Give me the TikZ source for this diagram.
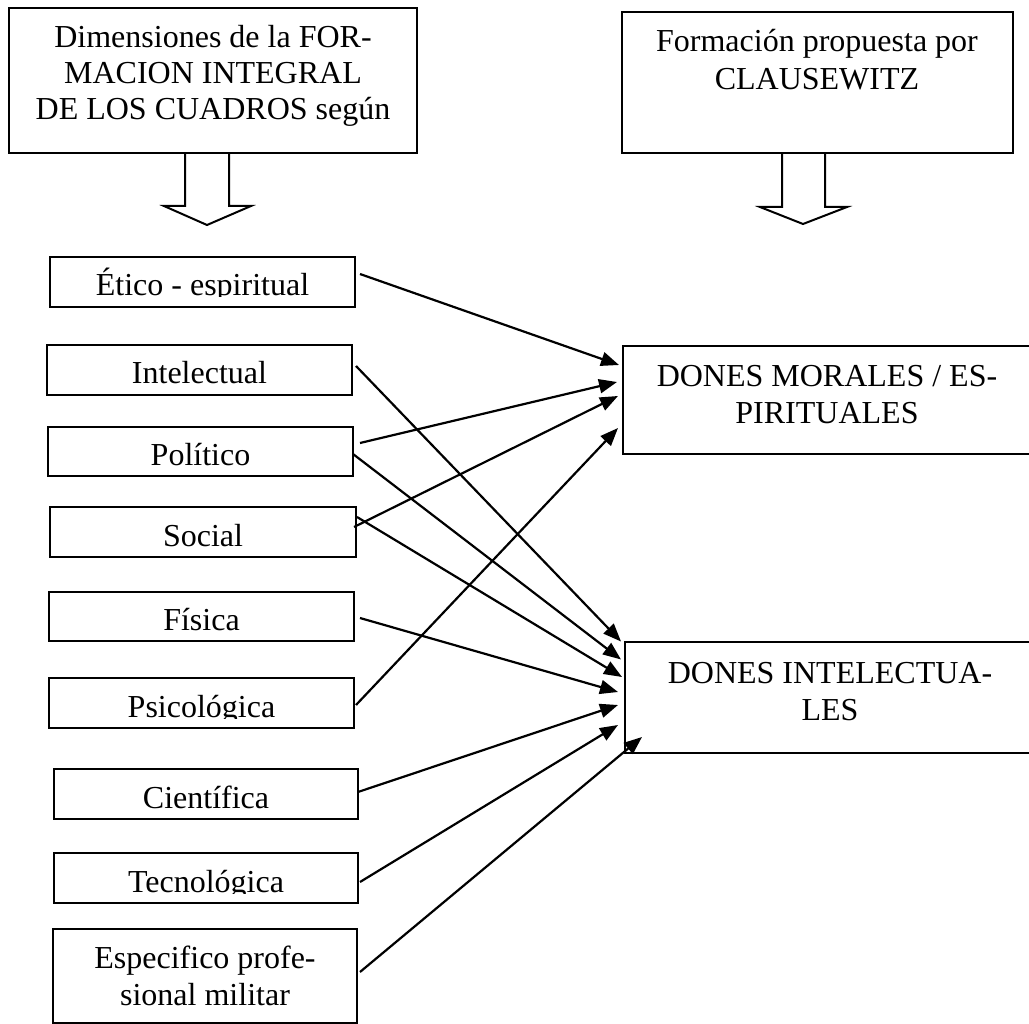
\documentclass[tikz,border=0pt]{standalone}
\usepackage{fontspec}
\setmainfont{Liberation Serif}
\usetikzlibrary{arrows.meta,calc}
\begin{document}
\begin{tikzpicture}[x=1pt,y=-1pt,
  box/.style={draw, line width=2pt, inner sep=0pt},
  lbl/.style={anchor=base, inner sep=0pt, font=\fontsize{32}{37}\selectfont},
  conn/.style={line width=2.2pt, -{Triangle[length=18pt,width=14pt]}},
  blockarrow/.style={draw, line width=2pt, line join=miter}]
\useasboundingbox (0,0) rectangle (1029,1024);
\clip (0,0) rectangle (1029,1024);

% ---- header boxes
\node[box, minimum width=408pt, minimum height=145pt] (dim) at (213,80.5) {};
\node[lbl, font=\fontsize{32}{36}\selectfont] (dimtxt) at (213,48)
  {\begin{tabular}[t]{@{}c@{}}Dimensiones de la FOR-\\MACION INTEGRAL\\DE LOS CUADROS según\end{tabular}};
\node[box, minimum width=391pt, minimum height=141pt] (form) at (817.5,82.5) {};
\node[lbl, font=\fontsize{32}{38}\selectfont] (formtxt) at (817,52)
  {\begin{tabular}[t]{@{}c@{}}Formación propuesta por\\CLAUSEWITZ\end{tabular}};

% ---- block arrows
\draw[blockarrow] ($(dim.south)+(-28,0)$) -- ++(0,52) -- ++(-21,0) -- ++(43,19) -- ++(44,-19) -- ++(-22,0) -- ++(0,-52);
\draw[blockarrow] ($(form.south)+(-35.5,0)$) -- ++(0,53) -- ++(-22,0) -- ++(43,17) -- ++(44,-17) -- ++(-22,0) -- ++(0,-53);

% ---- left column
\node[box, minimum width=305pt, minimum height=50pt] (etico) at (202.5,282) {};
\begin{scope}
  \clip (50,257) rectangle (355,297);
  \node[lbl] (eticotxt) at (202.5,296) {Ético - espiritual};
\end{scope}
\node[box, minimum width=305pt, minimum height=50pt] (intel) at (199.5,370) {};
\node[lbl] (inteltxt) at (199.5,384) {Intelectual};
\node[box, minimum width=305pt, minimum height=49pt] (polit) at (200.5,451.5) {};
\node[lbl] (polittxt) at (200.5,465) {Político};
\node[box, minimum width=306pt, minimum height=50pt] (social) at (203,532) {};
\node[lbl] (socialtxt) at (203,546) {Social};
\node[box, minimum width=305pt, minimum height=49pt] (fisica) at (201.5,616.5) {};
\node[lbl] (fisicatxt) at (201.5,630) {Física};
\node[box, minimum width=305pt, minimum height=50pt] (psico) at (201.5,703) {};
\begin{scope}
  \clip (49,678) rectangle (354,718);
  \node[lbl] (psicotxt) at (201.5,717) {Psicológica};
\end{scope}
\node[box, minimum width=304pt, minimum height=50pt] (cient) at (206,794) {};
\node[lbl] (cienttxt) at (206,808) {Científica};
\node[box, minimum width=304pt, minimum height=50pt] (tecno) at (206,878) {};
\begin{scope}
  \clip (54,853) rectangle (358,893);
  \node[lbl] (tecnotxt) at (206,892) {Tecnológica};
\end{scope}
\node[box, minimum width=304pt, minimum height=94pt] (espec) at (205,976) {};
\node[lbl] (espectxt) at (205,968)
  {\begin{tabular}[t]{@{}c@{}}Especifico profe-\\sional militar\end{tabular}};

% ---- right column
\node[box, minimum width=422pt, minimum height=108pt] (moral) at (834,400) {};
\node[lbl] (moraltxt) at (827,387)
  {\begin{tabular}[t]{@{}c@{}}DONES MORALES / ES-\\PIRITUALES\end{tabular}};
\node[box, minimum width=420pt, minimum height=111pt] (dint) at (835,697.5) {};
\node[lbl] (dinttxt) at (830,683)
  {\begin{tabular}[t]{@{}c@{}}DONES INTELECTUA-\\LES\end{tabular}};

% ---- connectors
\draw[conn] ($(etico.east)+(4,-8)$)   -- ($(moral.west)+(-3,-35)$);
\draw[conn] ($(intel.east)+(3,-4)$)   -- ($(dint.west)+(-3,-56)$);
\draw[conn] ($(polit.east)+(6,-8.5)$) -- ($(moral.west)+(-5,-18)$);
\draw[conn] ($(polit.east)+(-1,2.5)$) -- ($(dint.west)+(-3,-38)$);
\draw[conn] ($(social.east)+(-3,-5)$) -- ($(moral.west)+(-4,-4)$);
\draw[conn] ($(social.east)+(0,-15)$) -- ($(dint.west)+(-2,-20.5)$);
\draw[conn] ($(fisica.east)+(5,1.5)$) -- ($(dint.west)+(-6,-5.5)$);
\draw[conn] ($(psico.east)+(1,2)$)    -- ($(moral.west)+(-4,28)$);
\draw[conn] ($(cient.east)+(-1,-2)$)  -- ($(dint.west)+(-6,7.5)$);
\draw[conn] ($(tecno.east)+(1,4)$)    -- ($(dint.west)+(-6,27.5)$);
\draw[conn] ($(espec.east)+(2,-4)$)   -- ($(dint.west)+(18,39.5)$);
\end{tikzpicture}
\end{document}
